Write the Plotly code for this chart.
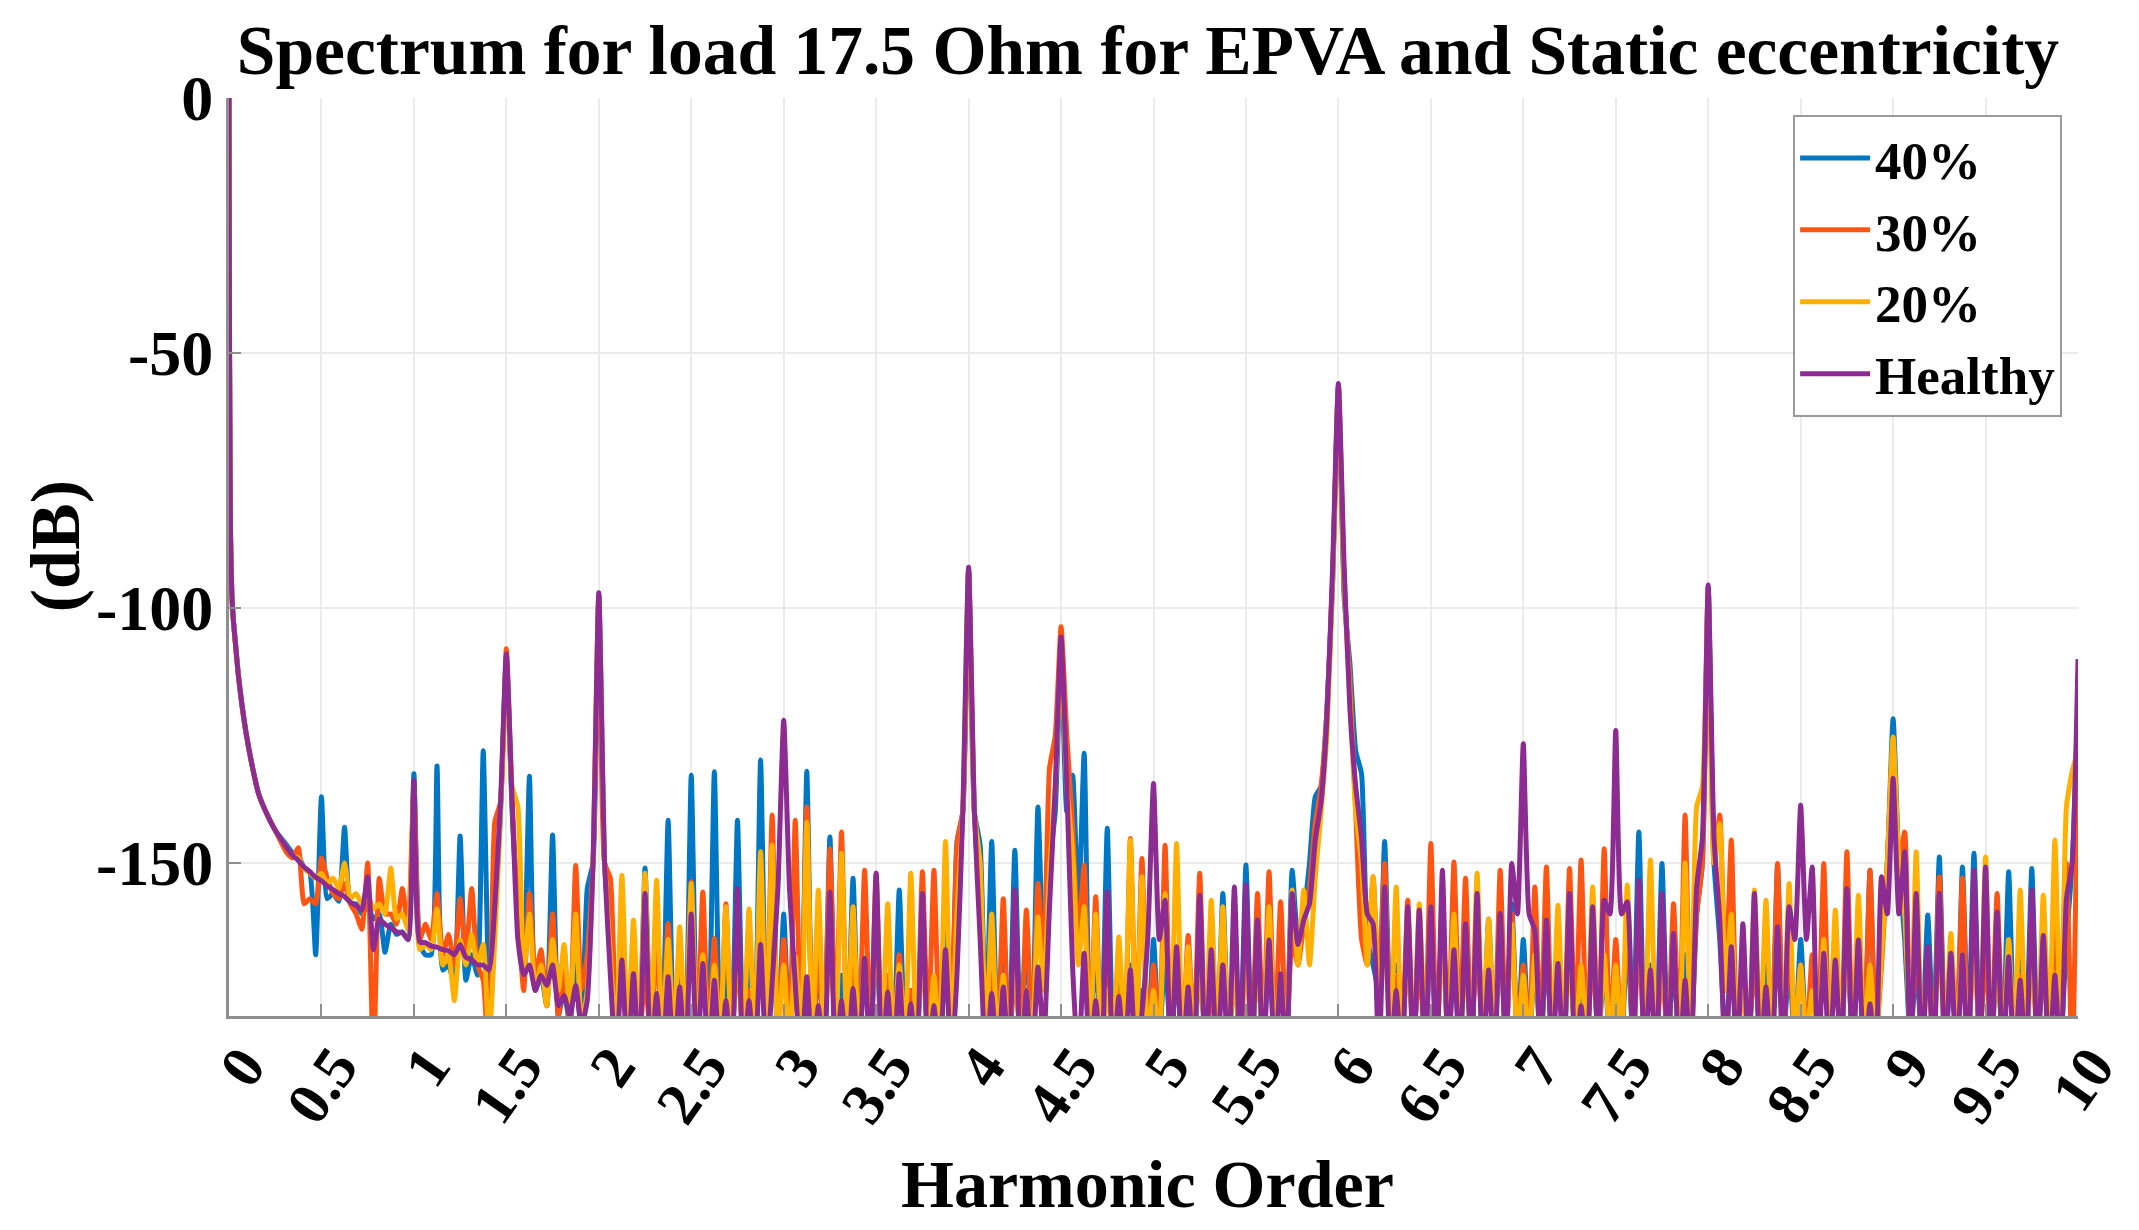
import numpy as np
import plotly.graph_objects as go

# ---------------- data (dB values) ----------------
# Low-order decay shared by all four cases
head_order = [0.0, 0.003, 0.008, 0.015, 0.025, 0.035, 0.05, 0.07, 0.09, 0.12, 0.16, 0.2, 0.25]
head_db = [0, -50, -85, -97, -103, -107, -113, -119, -124, -130, -136.4, -140, -143.6]

# Spectral bins: lobe maxima every 1/16 harmonic (0.3125 .. 10), minima halfway between
peak_order = np.arange(5, 161) / 16.0
trough_order = (np.arange(5, 160) + 0.5) / 16.0

# ---- 40 % ----
B_PK = [
    [-146.5, -148.5, -152, -137, -156, -143, -158, -158.5, -160, -162, -163.5],
    [-132.5, -168, -131, -170, -144.7, -168, -128, -160, -110, -160, -133, -172, -144.5, -175, -170, -155],
    [-97.5, -165, -170, -175, -151, -164, -141.6, -172, -132.8, -165, -132.1, -170, -141.6, -170, -129.8, -160],
    [-160, -168, -132, -170, -144.9, -172, -153, -170, -165, -175, -155.3, -175, -165, -172, -160, -145.8],
    [-92.5, -146.5, -145.8, -170, -147.5, -165, -139, -150, -108, -132.8, -128.5, -168, -143.2, -172, -170, -175],
    [-165, -168, -172, -175, -170, -175, -156, -172, -150.4, -170, -168, -172, -151.4, -160, -137, -120],
    [-56.5, -111, -132.5, -170, -145.8, -170, -165, -168, -165, -160, -170, -165, -162, -161, -165, -158],
    [-165, -170, -168, -170, -165, -172, -165, -170, -170, -165, -143.9, -170, -150.1, -170, -168, -160],
    [-96, -165, -170, -172, -168, -170, -150.8, -170, -165, -172, -168, -170, -165, -170, -151.4, -165],
    [-121.7, -165, -170, -160.2, -148.8, -172, -150.8, -148.1, -165, -170, -151.7, -168, -151.1, -170, -172, -165],
    [-118],
]
B_TR = [
    [-148, -151, -168, -157, -157.5, -158, -160, -161, -167.5, -164, -165],
    [-166, -168, -171, -174, -173, -172, -174, -140, -140, -172, -175, -178, -180, -182, -185, -150],
    [-150, -185, -185, -185, -185, -185, -185, -185, -185, -185, -185, -185, -185, -185, -185, -185],
    [-185, -185, -185, -185, -185, -185, -185, -185, -185, -185, -185, -185, -185, -185, -185, -140],
    [-140, -185, -185, -185, -185, -185, -170, -140, -140, -160, -185, -185, -185, -185, -185, -185],
    [-185, -185, -185, -185, -185, -185, -185, -185, -185, -185, -185, -185, -165, -150, -135, -95],
    [-98, -128, -165, -175, -180, -185, -185, -185, -185, -185, -185, -185, -185, -185, -185, -185],
    [-185, -185, -185, -185, -185, -185, -185, -185, -185, -185, -185, -185, -185, -185, -185, -150],
    [-150, -185, -185, -185, -185, -185, -185, -185, -185, -185, -185, -185, -185, -185, -185, -150],
    [-150, -185, -185, -185, -185, -185, -185, -185, -185, -185, -185, -185, -185, -185, -185, -150],
]

# ---- 30 % ----
O_PK = [
    [-148, -147, -157, -149, -156, -154, -160, -150, -153, -160, -155],
    [-135, -162, -156, -164, -157, -155, -173, -142, -108, -160, -156, -167, -160, -171, -150.5, -168],
    [-97.5, -153, -165, -175, -172, -165, -161.9, -175, -153.7, -155.7, -164.8, -158, -168, -175, -160, -140.6],
    [-165, -141.6, -139, -168, -147.2, -143.9, -170, -151.4, -152, -172, -168, -175, -151.7, -151.4, -168, -146],
    [-92.5, -160, -170, -157, -172, -159.2, -154, -131.5, -103.7, -142.9, -150.4, -156.6, -170, -175, -145.2, -149.1],
    [-170, -146.5, -170, -164.2, -152, -175, -172, -170, -165, -156, -151.7, -157.6, -165, -162, -142, -120.7],
    [-56.5, -114, -164.8, -152.7, -150.1, -172, -157.3, -170, -146.2, -162, -149.8, -153, -165, -172, -151.4, -160],
    [-170, -154.7, -150.8, -172, -151.1, -149.4, -168, -147.2, -165, -160, -165, -172, -170, -158, -140.6, -160],
    [-96, -140.6, -145.5, -172, -168, -175, -150.1, -165, -170, -168, -150.1, -172, -147.8, -168, -151.4, -170],
    [-126, -143.9, -165, -170, -152.7, -168, -153, -165, -168, -156, -170, -172, -165, -170, -160, -150],
    [-126],
]
O_TR = [
    [-149, -158, -158, -153, -157, -158, -163, -190, -160, -162, -163],
    [-165, -165, -168, -170, -168, -170, -190, -138, -138, -175, -172, -178, -180, -182, -175, -150],
    [-150, -185, -185, -185, -185, -185, -185, -185, -185, -185, -185, -185, -185, -185, -185, -185],
    [-185, -185, -185, -185, -185, -185, -185, -185, -185, -185, -185, -185, -185, -185, -185, -140],
    [-140, -185, -185, -185, -185, -185, -170, -125, -125, -165, -185, -185, -185, -185, -185, -185],
    [-185, -185, -185, -185, -185, -185, -185, -185, -185, -185, -185, -185, -170, -155, -135, -94],
    [-96, -140, -170, -175, -185, -185, -185, -185, -185, -185, -185, -185, -185, -185, -185, -185],
    [-185, -185, -185, -185, -185, -185, -185, -185, -185, -185, -185, -185, -185, -185, -185, -150],
    [-150, -175, -185, -185, -185, -185, -185, -185, -185, -185, -185, -185, -185, -185, -185, -150],
    [-150, -185, -185, -185, -185, -185, -185, -185, -185, -185, -185, -185, -185, -185, -185, -190],
]

# ---- 20 % ----
Y_PK = [
    [-147, -149, -152, -152, -153, -150, -156, -156, -158, -151, -160],
    [-136, -166, -159, -168, -165, -164, -166, -165, -112, -139, -160, -170, -165, -166, -160, -175],
    [-97.5, -168, -152.4, -161.2, -152, -153.4, -165, -162.5, -154, -168, -170, -158.6, -166, -159, -147.8, -146.5],
    [-170, -168.4, -142, -155.3, -165, -148.1, -158.6, -170, -162, -158, -170, -152, -168, -172, -145.8, -160],
    [-92.5, -150, -160, -172, -168, -175, -160.6, -152, -110, -147.5, -158.6, -160, -175, -164.5, -145.5, -152.7],
    [-175, -156, -146.2, -166.4, -170, -157.3, -158.6, -172, -168, -170, -158.6, -172, -155.3, -155.3, -152.7, -125],
    [-56.5, -118, -150, -152.7, -165, -154.7, -168, -158, -162, -165, -160, -170, -152, -161, -165, -162],
    [-172, -168, -165, -158.3, -168, -170, -154.7, -168, -170, -154.3, -160, -149.4, -168, -165, -150, -139],
    [-96, -142.3, -160, -175, -155.3, -157.3, -165, -154, -170, -175, -165, -159.2, -165, -156.3, -170, -168],
    [-125.3, -160, -147.8, -172, -165, -163.8, -168, -165, -148.8, -170, -165, -155.3, -170, -156.3, -145.5, -139],
    [-128],
]
Y_TR = [
    [-148.5, -151, -153, -154, -155, -157, -158, -159, -160, -161, -163],
    [-167, -167, -170, -177, -170, -170, -185, -140, -135, -172, -175, -178, -175, -180, -182, -150],
    [-150, -185, -185, -185, -185, -185, -185, -185, -185, -185, -185, -185, -185, -185, -185, -185],
    [-185, -185, -185, -185, -185, -185, -185, -185, -185, -185, -185, -185, -185, -185, -185, -140],
    [-140, -185, -185, -185, -185, -185, -175, -135, -135, -170, -185, -185, -185, -185, -185, -185],
    [-185, -185, -185, -185, -185, -185, -185, -185, -185, -185, -185, -185, -170, -170, -140, -95],
    [-95, -140, -170, -175, -185, -185, -185, -185, -185, -185, -185, -185, -185, -185, -185, -185],
    [-185, -185, -185, -185, -185, -185, -185, -185, -185, -185, -185, -185, -185, -185, -185, -135],
    [-150, -175, -185, -185, -185, -185, -185, -185, -185, -185, -185, -185, -185, -185, -185, -150],
    [-150, -185, -185, -185, -185, -185, -185, -185, -185, -185, -185, -185, -185, -185, -185, -132],
]

# ---- Healthy ----
H_PK = [
    [-147, -149.5, -151.7, -153.5, -155.2, -156.6, -158.3, -152.7, -161, -162.7, -163.7],
    [-133.8, -165.6, -166.5, -167.2, -166, -169, -170, -158.6, -109, -165, -170, -172, -170, -176, -174, -177],
    [-97, -172, -169, -171.7, -156, -175.6, -172.3, -174.3, -160, -169.7, -173, -177, -155, -177, -166, -173.6],
    [-122, -173.6, -172.3, -178, -155.7, -177, -174.6, -168.7, -152, -175.3, -171.7, -177.6, -156, -178, -167, -171.7],
    [-92, -165, -175.6, -174.3, -155.3, -175, -170.4, -158.6, -105.7, -170.4, -167.7, -177, -155.7, -176.2, -171, -179.5],
    [-134.4, -157.3, -166.4, -174.3, -156.3, -167, -170, -154.7, -154.3, -161.2, -165.1, -171.7, -156, -161.2, -145.5, -122],
    [-56, -120, -145, -161.9, -154.7, -175, -158.6, -159.2, -158.6, -151.4, -167, -161.9, -156, -171, -159.9, -150.1],
    [-126.6, -163.2, -161.2, -169.7, -156, -178, -158.6, -157.3, -124, -157.6, -153.4, -171, -156, -163.8, -173, -154.7],
    [-95.5, -161.2, -166.4, -161.9, -156, -174.3, -162.5, -158.6, -138.7, -150.8, -167.7, -169, -155, -165.1, -177.6, -152.7],
    [-133.4, -147.8, -156, -166.4, -156, -167.7, -168, -151.4, -150.8, -159.6, -168.4, -173, -155.3, -164.2, -172, -157],
    [-110],
]
H_TR = [
    [-148.5, -150.8, -152.8, -154.5, -156, -157.7, -159.2, -167, -162, -163.5, -165],
    [-165.5, -166.3, -167, -168, -168.5, -170, -171, -138, -138, -172, -175, -174, -178, -180, -182, -150],
    [-150, -190, -190, -190, -190, -190, -190, -190, -190, -190, -190, -190, -190, -190, -190, -155],
    [-155, -190, -190, -190, -190, -190, -190, -190, -190, -190, -190, -190, -190, -190, -190, -140],
    [-140, -190, -190, -190, -190, -190, -185, -135, -135, -190, -190, -190, -190, -190, -190, -165],
    [-165, -190, -190, -190, -190, -190, -190, -190, -190, -190, -190, -190, -166, -158, -138, -92],
    [-92, -135, -160, -190, -190, -190, -190, -190, -190, -190, -190, -190, -190, -190, -190, -160],
    [-160, -190, -190, -190, -190, -190, -190, -160, -160, -190, -190, -190, -190, -190, -190, -145],
    [-145, -190, -190, -190, -190, -190, -190, -165, -165, -190, -190, -190, -190, -190, -190, -160],
    [-160, -190, -190, -190, -190, -190, -190, -190, -190, -190, -190, -190, -190, -190, -190, -150],
]

series_names = ["40%", "30%", "20%", "Healthy"]
series_colors = ["#0077C4", "#FF5512", "#FFB000", "#8C2C92"]
series_data = [(B_PK, B_TR), (O_PK, O_TR), (Y_PK, Y_TR), (H_PK, H_TR)]

x_tick_vals = [i * 0.5 for i in range(21)]
x_tick_text = ["0", "0.5", "1", "1.5", "2", "2.5", "3", "3.5", "4", "4.5", "5",
               "5.5", "6", "6.5", "7", "7.5", "8", "8.5", "9", "9.5", "10"]
y_tick_vals = [-150, -100, -50, 0]
y_tick_text = ["-150", "-100", "-50", "0"]


def build(pk_units, tr_units):
    pk = [v for u in pk_units for v in u]
    tr = [v for u in tr_units for v in u]
    xs = list(head_order)
    ys = list(head_db)
    n = min(len(tr), len(pk) - 1, len(trough_order))
    for i in range(n):
        xs += [float(peak_order[i]), float(trough_order[i])]
        ys += [pk[i], tr[i]]
    xs.append(float(peak_order[n]))
    ys.append(pk[n])
    return xs, ys


FONT = "Liberation Serif, Times New Roman, serif"

fig = go.Figure()
for name, color, (pk, tr) in zip(series_names, series_colors, series_data):
    xs, ys = build(pk, tr)
    fig.add_trace(go.Scatter(x=xs, y=ys, mode="lines", name=name,
                             line=dict(color=color, width=5, shape="spline", smoothing=0.5)))

fig.update_layout(
    width=2139, height=1230,
    margin=dict(l=229, r=59, t=98, b=214),
    paper_bgcolor="white", plot_bgcolor="white",
    font=dict(family=FONT, color="black", weight="bold"),
    title=dict(text="Spectrum for load 17.5 Ohm for EPVA and Static eccentricity",
               x=0.497, xref="paper", xanchor="center",
               y=1 - 50 / 1230, yref="container", yanchor="middle",
               font=dict(family=FONT, size=69.5, color="black", weight="bold")),
    showlegend=True,
    legend=dict(x=0.9914, xanchor="right", y=0.9815, yanchor="top",
                bgcolor="white", bordercolor="#9a9a9a", borderwidth=2,
                font=dict(family=FONT, size=53, color="black", weight="bold"),
                tracegroupgap=0, itemwidth=70),
)

fig.update_xaxes(range=[0, 10], tickmode="array", tickvals=x_tick_vals, ticktext=x_tick_text,
                 tickangle=-55, tickfont=dict(family=FONT, size=60, color="black", weight="bold"),
                 ticklabelshift=14, ticklabelstandoff=-12,
                 showgrid=True, gridcolor="#ebebeb", gridwidth=2, zeroline=False,
                 showline=True, linecolor="#8f8f8f", linewidth=3,
                 ticks="inside", ticklen=12, tickwidth=2, tickcolor="#8f8f8f")
fig.update_yaxes(range=[-180, 0], tickmode="array", tickvals=y_tick_vals, ticktext=y_tick_text,
                 tickfont=dict(family=FONT, size=64, color="black", weight="bold"),
                 showgrid=True, gridcolor="#ebebeb", gridwidth=2, zeroline=False,
                 showline=True, linecolor="#8f8f8f", linewidth=3,
                 ticks="inside", ticklen=12, tickwidth=2, tickcolor="#8f8f8f")

fig.add_annotation(text="Harmonic Order", xref="paper", yref="paper",
                   x=0.497, y=(1016 - 1184) / 918, xanchor="center", yanchor="middle",
                   showarrow=False, font=dict(family=FONT, size=68, color="black", weight="bold"))
fig.add_annotation(text="(dB)", xref="paper", yref="paper",
                   x=(55 - 229) / 1851, y=(1016 - 546) / 918, xanchor="center", yanchor="middle",
                   textangle=-90, showarrow=False,
                   font=dict(family=FONT, size=70, color="black", weight="bold"))

fig.write_html("out.html")
